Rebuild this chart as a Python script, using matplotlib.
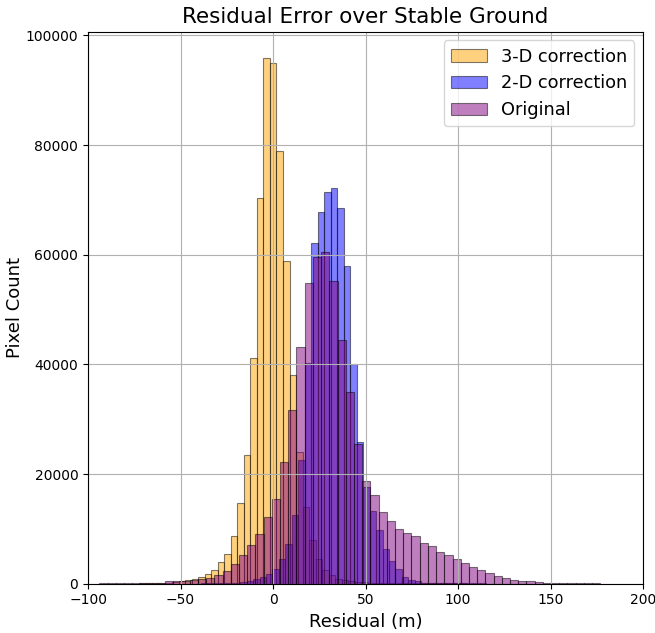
import numpy as np
import matplotlib
matplotlib.use("Agg")
import matplotlib.pyplot as plt

# ---- data: histogram bin layout (start, width) and counts per bin ----
d3_start, d3_width = -72.27, 3.53
d2_start, d2_width = -45.8, 3.5
orig_start, orig_width = -93.9, 4.44

counts_3d = [50, 50, 80, 100, 150, 250, 400,
             600, 850, 1200, 1800, 2500, 4000, 5500, 8700, 14700, 23500,
             41200, 70300, 95900, 94900, 79000, 58900, 38100, 24000, 14000,
             8000, 4500, 2500, 1500, 900, 600, 400, 300,
             250, 200, 180, 150, 130, 110, 100, 90, 80, 70, 60, 55, 50, 45,
             40, 35, 30, 28, 25, 22, 20, 18, 15, 12, 10, 8]

counts_2d = [20, 30, 40, 50, 70, 100, 150,
             200, 300, 500, 800, 1200, 1800, 2700, 4500, 7200, 12600, 22600,
             40200, 62200, 67800, 71500, 72100, 68600, 58000, 40000, 25800,
             17700, 13200, 9800, 6300, 4100, 2600, 1300, 700, 400, 200,
             150, 120, 100, 80, 70, 60, 50, 40, 35, 30, 25, 20, 18, 15, 12,
             10, 8, 7, 6, 5, 4, 3, 2]

counts_orig = [50, 50, 80, 100, 100, 120, 150, 200,
               500, 450, 500, 600, 800, 1100, 1500, 2300, 3500, 5300, 7100,
               9000, 12200, 15400, 22200, 31600, 43200, 54800, 59500, 60500,
               55200, 44400, 34900, 25500, 18800, 16200, 13000, 11400, 10000,
               9300, 8700, 7500, 6800, 5700, 5200, 4500, 3700, 3000, 2500,
               1900, 1400, 1000, 700, 500, 400, 300,
               150, 130, 120, 100, 90, 80, 60]

labels = ["3-D correction", "2-D correction", "Original"]
x_ticks = [-100, -50, 0, 50, 100, 150, 200]
y_ticks = [0, 20000, 40000, 60000, 80000, 100000]


def edges(start, width, counts):
    return start + width * np.arange(len(counts) + 1)


fig = plt.figure(figsize=(6.55, 6.33), dpi=100)
ax = fig.add_axes([0.1344, 0.0779, 0.8473, 0.8722])

series = [
    (d3_start, d3_width, counts_3d, "orange"),
    (d2_start, d2_width, counts_2d, "blue"),
    (orig_start, orig_width, counts_orig, "purple"),
]
for (start, width, counts, color), label in zip(series, labels):
    e = edges(start, width, counts)
    centers = (e[:-1] + e[1:]) / 2
    ax.hist(centers, bins=e, weights=counts, color=color, alpha=0.5,
            edgecolor="black", linewidth=0.8, label=label)

ax.set_xlim(-100, 200)
ax.set_ylim(0, max(counts_3d) * 1.05)
ax.set_xticks(x_ticks)
ax.set_yticks(y_ticks)
ax.grid(True, color="#b0b0b0", linewidth=0.8)
ax.set_title("Residual Error over Stable Ground", fontsize=15.5)
ax.set_xlabel("Residual (m)", fontsize=13)
ax.set_ylabel("Pixel Count", fontsize=13, labelpad=1)
ax.legend(loc="upper right", fontsize=12.8)

fig.savefig("out.png", dpi=100)
